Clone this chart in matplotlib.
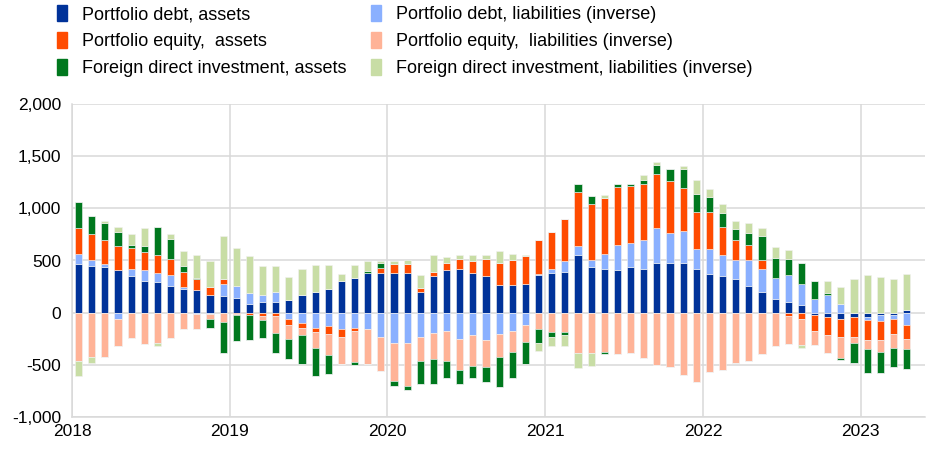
import matplotlib
matplotlib.use("Agg")
import matplotlib.pyplot as plt
import matplotlib.patches as mpatches
from matplotlib.ticker import FuncFormatter
import numpy as np

# monthly, Jan 2018 - Apr 2023
months = np.arange(64)
years = ["2018", "2019", "2020", "2021", "2022", "2023"]

debt_assets = [465, 449, 437, 405, 348, 303, 291, 259, 230, 214, 173, 160,
               144, 87, 100, 100, 125, 173, 202, 230, 303, 332, 376, 376,
               376, 376, 202, 348, 405, 421, 376, 348, 262, 262, 275, 360,
               376, 389, 548, 437, 421, 405, 437, 421, 475, 475, 475, 418,
               373, 348, 322, 259, 198, 132, 100, 71, -27, -43, -59, -43,
               -43, -27, -27, 30]
debt_liab = [100, 57, 28, -59, 73, 102, 85, 101, 16, -17, -11, 111,
             115, 102, 70, 98, -59, -103, -146, -129, -160, -146, -160, -233,
             -294, -294, -233, -192, -176, -249, -218, -265, -208, -176, -119, 10,
             45, 102, 88, 69, 142, 244, 228, 276, 339, 292, 308, 190,
             235, 200, 184, 247, 220, 200, 257, 204, 132, 173, 84, 0,
             -32, -54, -32, -119]
equity_assets = [247, 248, 232, 232, 203, 174, 172, 156, 146, 108, 76, 51,
                 -10, -24, -33, -33, -60, -48, -43, -73, -70, -30, 0, 51,
                 89, 89, 31, 41, 73, 95, 118, 171, 216, 244, 269, 324,
                 349, 406, 524, 537, 537, 556, 552, 536, 518, 492, 416, 359,
                 359, 276, 191, 143, 88, 0, -33, -59, -149, -174, -174, -190,
                 -187, -184, -149, -130]
equity_liab = [-468, -424, -421, -260, -246, -303, -295, -246, -160, -143, -45, -87,
               -15, 0, -42, -159, -130, -67, -146, -206, -264, -294, -334, -329,
               -358, -406, -229, -254, -286, -299, -292, -254, -213, -200, -159, -160,
               -189, -186, -383, -383, -373, -400, -389, -433, -503, -519, -595, -662,
               -573, -551, -478, -465, -392, -319, -270, -251, -134, -172, -197, -54,
               -89, -108, -127, -96]
fdi_assets = [245, 171, 159, 133, 28, 58, 276, 190, 57, 13, -88, -302,
              -250, -238, -171, -197, -197, -270, -270, -181, 0, -35, 26, 51,
              -48, -41, -222, -238, -162, -136, -114, -149, -295, -248, -213, -127,
              -41, -28, 73, 73, -19, 28, 16, 35, 86, 121, 174, 174,
              143, 133, 101, 118, 232, 190, 159, 200, 168, 16, -22, -191,
              -228, -206, -184, -191]
fdi_liab = [-137, -54, 25, 54, 102, 171, -21, 45, 143, 213, 245, 413,
            359, 356, 273, 245, 216, 245, 257, 229, 70, 127, 95, 19,
            35, 41, 127, 159, 54, 32, 54, 29, 114, 54, 10, -77,
            -89, -105, -152, -127, 32, 0, 0, 48, 25, 0, 29, 134,
            73, 83, 83, 89, 70, 111, 86, -25, 0, 111, 159, 325,
            357, 341, 325, 340]

series = [
    ("Portfolio debt, assets", debt_assets, "#003299"),
    ("Portfolio debt, liabilities (inverse)", debt_liab, "#8AB0FF"),
    ("Portfolio equity,  assets", equity_assets, "#FF4B00"),
    ("Portfolio equity,  liabilities (inverse)", equity_liab, "#FFB397"),
    ("Foreign direct investment, assets", fdi_assets, "#00781E"),
    ("Foreign direct investment, liabilities (inverse)", fdi_liab, "#C8DDA5"),
]

plt.rcParams["font.family"] = ["Liberation Sans", "DejaVu Sans"]

fig = plt.figure(figsize=(9.45, 4.61), dpi=100)
ax = fig.add_axes([72 / 945, 44 / 461, 853 / 945, 313 / 461])

pos_base = np.zeros(len(months))
neg_base = np.zeros(len(months))
handles = {}
for name, vals, col in series:
    v = np.array(vals, dtype=float)
    pos = np.where(v > 0, v, 0)
    neg = np.where(v < 0, v, 0)
    ax.bar(months, pos, bottom=pos_base, width=0.55, color=col,
           edgecolor="#F2F2F2", linewidth=0.4, zorder=3)
    ax.bar(months, neg, bottom=neg_base, width=0.55, color=col,
           edgecolor="#F2F2F2", linewidth=0.4, zorder=3)
    pos_base += pos
    neg_base += neg
    handles[name] = mpatches.Patch(color=col, label=name)

ax.set_xlim(-0.5, 64.4)
ax.set_ylim(-1000, 2000)
ax.set_yticks(np.arange(-1000, 2001, 500))
ax.yaxis.set_major_formatter(FuncFormatter(lambda v, p: f"{int(v):,}"))
ax.set_xticks(np.arange(len(years)) * 12 - 0.5)
ax.set_xticklabels(years)
ax.tick_params(axis="both", length=0, labelsize=12.5, colors="#000000")
ax.tick_params(axis="x", pad=5)
ax.tick_params(axis="y", pad=8)
ax.grid(True, color="#D9D9D9", linewidth=1.1, zorder=0)
for s in ["top", "right"]:
    ax.spines[s].set_visible(False)
for s in ["left", "bottom"]:
    ax.spines[s].set_color("#D9D9D9")
    ax.spines[s].set_linewidth(1.1)

order = [0, 2, 4, 1, 3, 5]
hl = [handles[series[i][0]] for i in order]
fig.legend(handles=hl, loc="upper left", bbox_to_anchor=(0.053, 1.004), ncol=2,
           frameon=False, fontsize=13, handlelength=0.55, handleheight=0.95,
           handletextpad=0.8, columnspacing=1.4, labelspacing=0.5,
           borderaxespad=0)

plt.savefig("out.png", dpi=100)
plt.close()
